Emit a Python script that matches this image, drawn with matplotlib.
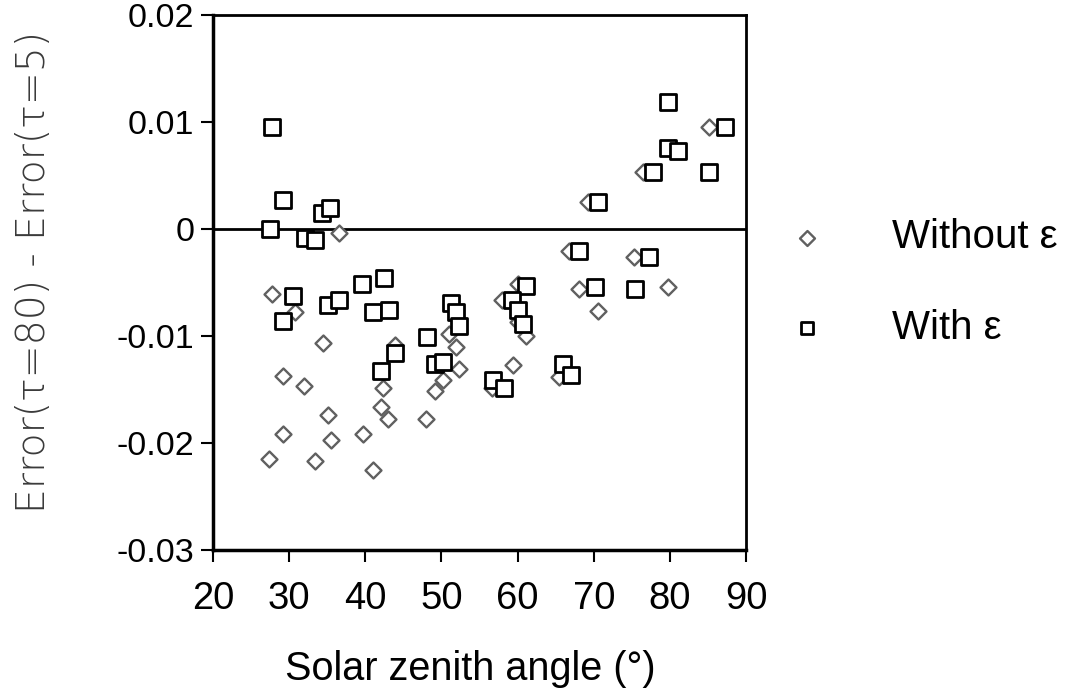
import numpy as np
import matplotlib.pyplot as plt

plt.rcParams['font.family'] = ['Liberation Sans', 'DejaVu Sans']

# Without epsilon (diamonds)
sza_without = [27.7, 30.8, 34.5, 29.2, 32.0, 42.3, 42.1, 43.0, 35.1, 29.2,
               35.5, 39.7, 27.4, 33.4, 41.0, 36.5, 49.2, 50.2, 52.3, 51.9,
               51.0, 58.0, 60.0, 61.1, 59.4, 56.7, 85.2, 76.5, 69.3, 66.7,
               75.3, 68.0, 79.7, 70.5, 65.4, 48.0, 43.9, 60.0, 80.5]
err_without = [-0.0061, -0.0078, -0.0107, -0.0137, -0.0147, -0.0149, -0.0166, -0.0178, -0.0174, -0.0192,
               -0.0197, -0.0192, -0.0215, -0.0217, -0.0225, -0.0004, -0.0151, -0.0141, -0.0131, -0.0110,
               -0.0098, -0.0066, -0.0087, -0.0100, -0.0127, -0.0149, 0.0095, 0.0053, 0.0025, -0.0021,
               -0.0026, -0.0056, -0.0054, -0.0077, -0.0138, -0.0178, -0.0108, -0.0051, 0.0076]

# With epsilon (squares)
sza_with = [27.8, 29.2, 34.3, 35.4, 27.5, 32.1, 33.4, 39.6, 42.4, 30.5,
            29.2, 35.1, 36.5, 41.0, 43.1, 43.9, 42.1, 48.1, 49.2, 50.2,
            51.3, 51.9, 52.3, 61.1, 59.3, 60.0, 60.7, 56.8, 58.2, 66.0,
            67.0, 79.7, 87.3, 79.7, 81.0, 77.8, 85.2, 70.5, 68.1, 77.2,
            70.2, 75.4]
err_with = [0.0095, 0.0027, 0.0015, 0.0020, 0.0000, -0.0008, -0.0010, -0.0051, -0.0046, -0.0063,
            -0.0086, -0.0071, -0.0066, -0.0078, -0.0076, -0.0116, -0.0133, -0.0101, -0.0126, -0.0124,
            -0.0069, -0.0078, -0.0091, -0.0053, -0.0066, -0.0076, -0.0089, -0.0141, -0.0149, -0.0126,
            -0.0136, 0.0119, 0.0095, 0.0076, 0.0073, 0.0053, 0.0053, 0.0025, -0.0021, -0.0026,
            -0.0054, -0.0056]

yticks = [0.02, 0.01, 0, -0.01, -0.02, -0.03]
ytick_labels = ['0.02', '0.01', '0', '-0.01', '-0.02', '-0.03']
xticks = [20, 30, 40, 50, 60, 70, 80, 90]

fig = plt.figure(figsize=(10.77, 6.94), dpi=100)
ax = fig.add_axes([0.1978, 0.2075, 0.4949, 0.7709])

# zero reference line
ax.axhline(0, color='black', lw=2, zorder=1)

ax.scatter(sza_without, err_without, marker='D', s=66, facecolor='white',
           edgecolor='#606060', linewidths=1.7, zorder=2, label='Without ε')
ax.scatter(sza_with, err_with, marker='s', s=117, facecolor='white',
           edgecolor='black', linewidths=2, zorder=3, label='With ε')

ax.set_xlim(20, 90)
ax.set_ylim(-0.03, 0.02)
ax.set_xticks(xticks)
ax.set_xticklabels([str(v) for v in xticks])
ax.set_yticks(yticks)
ax.set_yticklabels(ytick_labels)
ax.tick_params(length=8.5, width=1.5, direction='out')
ax.tick_params(axis='x', labelsize=27.5, pad=14)
ax.tick_params(axis='y', labelsize=24.5, pad=5)

for side in ['left', 'bottom']:
    ax.spines[side].set_linewidth(2.5)
for side in ['top', 'right']:
    ax.spines[side].set_linewidth(2)

ax.set_xlabel('Solar zenith angle (°)', fontsize=28.5)
ax.xaxis.set_label_coords(0.482, -0.187)
ax.set_ylabel('Error(τ=80) - Error(τ=5)', fontsize=28.4, color='#3a3a3a',
              family=['DejaVu Sans'], fontweight='light')
ax.yaxis.set_label_coords(-0.300, 0.52)

leg = ax.legend(loc='center left', bbox_to_anchor=(0.697, 0.593),
                bbox_transform=fig.transFigure, frameon=False, fontsize=29,
                handlelength=1.0, handletextpad=1.6, labelspacing=1.3,
                borderpad=0.4)
leg.legend_handles[0].set_sizes([58])
leg.legend_handles[1].set_sizes([72])

fig.savefig('out.png', dpi=100)
